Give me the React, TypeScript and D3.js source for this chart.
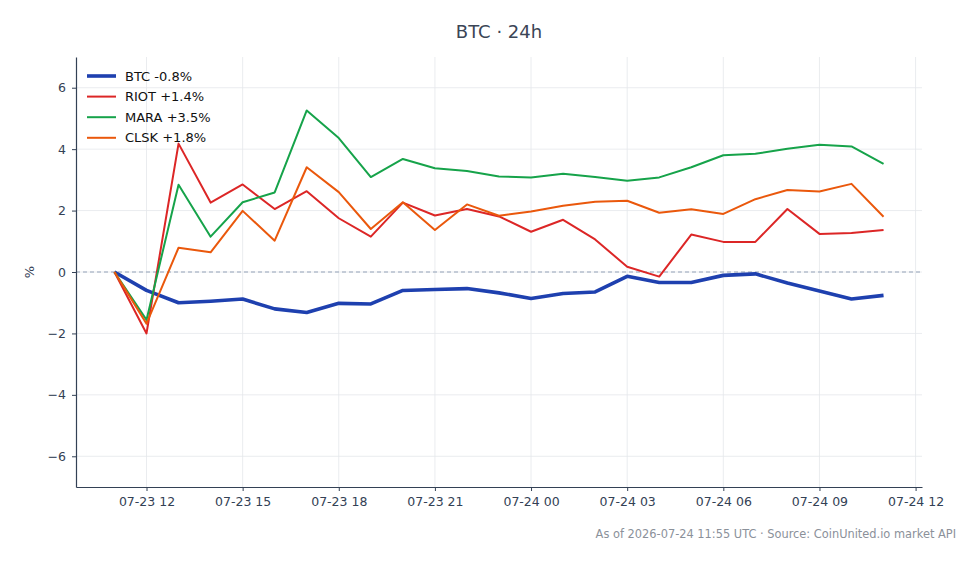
import React, { useRef, useEffect } from 'react';
import * as d3 from 'd3';

// hourly samples, UTC
const hours: string[] = [
  '2026-07-23T11:00Z', '2026-07-23T12:00Z', '2026-07-23T13:00Z', '2026-07-23T14:00Z',
  '2026-07-23T15:00Z', '2026-07-23T16:00Z', '2026-07-23T17:00Z', '2026-07-23T18:00Z',
  '2026-07-23T19:00Z', '2026-07-23T20:00Z', '2026-07-23T21:00Z', '2026-07-23T22:00Z',
  '2026-07-23T23:00Z', '2026-07-24T00:00Z', '2026-07-24T01:00Z', '2026-07-24T02:00Z',
  '2026-07-24T03:00Z', '2026-07-24T04:00Z', '2026-07-24T05:00Z', '2026-07-24T06:00Z',
  '2026-07-24T07:00Z', '2026-07-24T08:00Z', '2026-07-24T09:00Z', '2026-07-24T10:00Z',
  '2026-07-24T11:00Z',
];

// % change since first sample
const btc = [0, -0.6, -1.0, -0.95, -0.88, -1.2, -1.32, -1.02, -1.04, -0.6, -0.57, -0.54, -0.68,
  -0.86, -0.7, -0.65, -0.14, -0.34, -0.34, -0.11, -0.06, -0.36, -0.62, -0.88, -0.76];
const riot = [0, -2.0, 4.18, 2.26, 2.85, 2.05, 2.63, 1.75, 1.15, 2.26, 1.84, 2.05, 1.81,
  1.31, 1.7, 1.06, 0.17, -0.15, 1.22, 0.98, 0.98, 2.05, 1.24, 1.27, 1.37];
const mara = [0, -1.56, 2.84, 1.15, 2.27, 2.59, 5.26, 4.36, 3.09, 3.68, 3.38, 3.29, 3.11,
  3.08, 3.2, 3.09, 2.97, 3.08, 3.41, 3.8, 3.85, 4.01, 4.14, 4.09, 3.52];
const clsk = [0, -1.68, 0.79, 0.64, 1.99, 1.02, 3.41, 2.6, 1.4, 2.27, 1.37, 2.2, 1.83,
  1.97, 2.16, 2.29, 2.32, 1.93, 2.04, 1.89, 2.37, 2.67, 2.62, 2.87, 1.8];

const seriesNames = ['BTC', 'RIOT', 'MARA', 'CLSK'];
const seriesValues = [btc, riot, mara, clsk];
const seriesColors = ['#1e40af', '#dc2626', '#16a34a', '#ea580c'];
const seriesWidths = [3.6, 2, 2, 2];

const yTicks = [-6, -4, -2, 0, 2, 4, 6];

const W = 980;
const H = 564;
const M = { left: 76, right: 58, top: 57, bottom: 77 };
const FONT = 'DejaVu Sans, sans-serif';

const fmtPct = (v: number) => `${v >= 0 ? '+' : ''}${v.toFixed(1)}%`;

const App: React.FC = () => {
  const svgRef = useRef<SVGSVGElement>(null);

  useEffect(() => {
    if (!svgRef.current) return;
    const svg = d3.select(svgRef.current);
    svg.selectAll('*').remove();

    const times = hours.map(h => new Date(h));
    const t0 = times[0].getTime();
    const t1 = times[times.length - 1].getTime();
    const pad = (t1 - t0) * 0.05;

    const x = d3.scaleUtc()
      .domain([new Date(t0 - pad), new Date(t1 + pad)])
      .range([M.left, W - M.right]);
    const y = d3.scaleLinear().domain([-7, 7]).range([H - M.bottom, M.top]);

    const xTicks = d3.utcHour.every(3)!.range(new Date(t0), new Date(t1 + pad));

    // grid
    const grid = svg.append('g');
    grid.selectAll('.gx')
      .data(xTicks)
      .enter()
      .append('line')
      .attr('x1', d => x(d)).attr('x2', d => x(d))
      .attr('y1', M.top).attr('y2', H - M.bottom)
      .attr('stroke', '#e5e7eb').attr('stroke-width', 0.8);
    grid.selectAll('.gy')
      .data(yTicks)
      .enter()
      .append('line')
      .attr('x1', M.left).attr('x2', W - M.right)
      .attr('y1', d => y(d)).attr('y2', d => y(d))
      .attr('stroke', '#e5e7eb').attr('stroke-width', 0.8);

    // zero reference
    svg.append('line')
      .attr('x1', M.left).attr('x2', W - M.right)
      .attr('y1', y(0)).attr('y2', y(0))
      .attr('stroke', '#94a3b8').attr('stroke-width', 1)
      .attr('stroke-dasharray', '4,3');

    // lines
    const line = d3.line<number>()
      .x((_, i) => x(times[i]))
      .y(d => y(d));

    seriesValues.forEach((vals, k) => {
      svg.append('path')
        .datum(vals)
        .attr('d', line)
        .attr('fill', 'none')
        .attr('stroke', seriesColors[k])
        .attr('stroke-width', seriesWidths[k])
        .attr('stroke-linejoin', 'round');
    });

    // axes
    const xAxis = d3.axisBottom(x)
      .tickValues(xTicks)
      .tickFormat(d => d3.utcFormat('%m-%d %H')(d as Date))
      .tickSizeInner(4)
      .tickSizeOuter(0)
      .tickPadding(6);
    const gx = svg.append('g')
      .attr('transform', `translate(0, ${H - M.bottom})`)
      .call(xAxis);
    gx.select('.domain').attr('stroke', '#334155').attr('stroke-width', 1.2);

    const yAxis = d3.axisLeft(y)
      .tickValues(yTicks)
      .tickFormat(d => d3.format('d')(d as number).replace('-', '\u2212'))
      .tickSizeInner(4)
      .tickSizeOuter(0)
      .tickPadding(6);
    const gy = svg.append('g')
      .attr('transform', `translate(${M.left}, 0)`)
      .call(yAxis);
    gy.select('.domain').attr('stroke', '#334155').attr('stroke-width', 1.2);

    [gx, gy].forEach(g => {
      g.selectAll('.tick line').attr('stroke', '#334155');
      g.selectAll('.tick text')
        .attr('fill', '#334155')
        .style('font-family', FONT)
        .style('font-size', '12.5px');
    });

    svg.append('text')
      .attr('transform', `translate(34, ${y(0)}) rotate(-90)`)
      .attr('text-anchor', 'middle')
      .style('font-family', FONT)
      .style('font-size', '13px')
      .style('fill', '#334155')
      .text('%');

    // title
    svg.append('text')
      .attr('x', (M.left + W - M.right) / 2)
      .attr('y', 38)
      .attr('text-anchor', 'middle')
      .style('font-family', FONT)
      .style('font-size', '18px')
      .style('fill', '#3b4556')
      .text('BTC \u00b7 24h');

    // legend
    const legend = svg.append('g').attr('transform', `translate(87, 76)`);
    seriesNames.forEach((name, k) => {
      const vals = seriesValues[k];
      const row = legend.append('g').attr('transform', `translate(0, ${k * 20.6})`);
      row.append('line')
        .attr('x1', 0).attr('x2', 29)
        .attr('y1', 0).attr('y2', 0)
        .attr('stroke', seriesColors[k])
        .attr('stroke-width', seriesWidths[k]);
      row.append('text')
        .attr('x', 38)
        .attr('y', 4.5)
        .style('font-family', FONT)
        .style('font-size', '13px')
        .style('fill', '#111')
        .text(`${name} ${fmtPct(vals[vals.length - 1])}`);
    });

    // footer
    svg.append('text')
      .attr('x', 956)
      .attr('y', 538)
      .attr('text-anchor', 'end')
      .style('font-family', FONT)
      .style('font-size', '11.4px')
      .style('fill', '#8b919a')
      .text('As of 2026-07-24 11:55 UTC \u00b7 Source: CoinUnited.io market API');
  }, []);

  return (
    <svg
      ref={svgRef}
      width={W}
      height={H}
      style={{ position: 'absolute', left: 0, top: 0, background: '#fff' }}
    />
  );
};

export default App;
